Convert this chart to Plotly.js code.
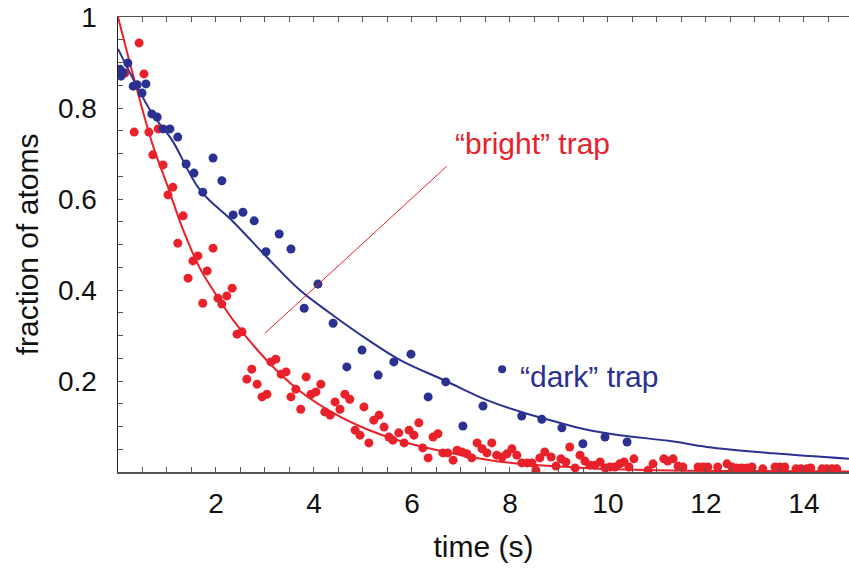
<!DOCTYPE html>
<html>
<head>
<meta charset="utf-8">
<script src="https://cdn.plot.ly/plotly-3.0.1.min.js"></script>
<style>html,body{margin:0;padding:0;background:#fff;}#chart{width:849px;height:568px;}</style>
</head>
<body>
<div id="chart"></div>
<script>
// "dark" trap data points
const darkT = [0.04,0.06,0.10,0.20,0.31,0.39,0.49,0.57,0.69,0.80,0.92,1.06,1.22,1.39,1.55,1.73,1.94,2.12,2.35,2.55,2.78,3.02,3.29,3.53,3.80,4.08,4.39,4.67,4.98,5.31,5.63,5.98,6.33,6.69,7.04,7.45,8.24,8.65,9.06,9.49,9.94,10.39];
const darkV = [0.885,0.870,0.878,0.899,0.848,0.851,0.833,0.853,0.787,0.780,0.754,0.754,0.736,0.677,0.657,0.615,0.690,0.640,0.565,0.571,0.552,0.484,0.523,0.490,0.360,0.413,0.327,0.231,0.268,0.213,0.242,0.259,0.165,0.198,0.101,0.145,0.123,0.116,0.097,0.062,0.077,0.066];

// "bright" trap data points
const brightT = [0.14,0.33,0.43,0.53,0.63,0.71,0.82,0.92,1.02,1.12,1.22,1.33,1.43,1.53,1.63,1.73,1.82,1.94,2.04,2.12,2.22,2.33,2.43,2.53,2.63,2.73,2.84,2.94,3.04,3.12,3.22,3.33,3.43,3.53,3.63,3.73,3.84,3.94,4.04,4.14,4.22,4.33,4.43,4.53,4.63,4.73,4.84,4.94,5.02,5.12,5.22,5.33,5.43,5.53,5.61,5.73,5.84,5.94,6.04,6.14,6.22,6.33,6.43,6.53,6.63,6.73,6.84,6.92,7.02,7.12,7.22,7.33,7.43,7.53,7.63,7.73,7.84,7.94,8.04,8.14,8.24,8.35,8.45,8.53,8.61,8.71,8.84,8.94,9.04,9.14,9.22,9.33,9.43,9.53,9.63,9.73,9.84,9.94,10.04,10.14,10.24,10.33,10.43,10.53,10.82,10.92,11.14,11.22,11.33,11.43,11.53,11.84,11.94,12.04,12.24,12.43,12.53,12.63,12.73,12.84,12.94,13.16,13.41,13.51,13.61,13.84,13.94,14.06,14.14,14.37,14.47,14.57,14.67];
const brightV = [0.877,0.747,0.943,0.875,0.747,0.697,0.754,0.675,0.609,0.626,0.503,0.563,0.426,0.464,0.475,0.371,0.442,0.492,0.382,0.369,0.387,0.404,0.303,0.308,0.204,0.226,0.193,0.165,0.171,0.242,0.248,0.215,0.220,0.165,0.182,0.138,0.209,0.171,0.176,0.193,0.132,0.125,0.154,0.138,0.171,0.160,0.092,0.081,0.143,0.064,0.114,0.125,0.099,0.077,0.070,0.086,0.064,0.092,0.081,0.108,0.053,0.031,0.077,0.084,0.042,0.042,0.026,0.048,0.044,0.040,0.031,0.064,0.051,0.042,0.064,0.037,0.033,0.040,0.051,0.037,0.020,0.020,0.020,0.004,0.031,0.044,0.033,0.013,0.029,0.022,0.055,0.009,0.037,0.024,0.015,0.015,0.022,0.009,0.011,0.011,0.018,0.022,0.011,0.029,0.004,0.018,0.029,0.024,0.029,0.013,0.011,0.011,0.011,0.011,0.011,0.018,0.011,0.009,0.009,0.009,0.011,0.007,0.011,0.011,0.011,0.007,0.007,0.007,0.009,0.007,0.007,0.007,0.007];

// fitted curves
const darkFitT = [0,0.69,1.1,1.67,2.35,3.04,3.71,4.33,5.08,5.76,6.69,7.53,8.2,8.88,9.57,10.24,11.27,12.02,13.37,14.92];
const darkFitV = [0.93,0.789,0.73,0.62,0.55,0.472,0.400,0.349,0.292,0.246,0.200,0.158,0.133,0.112,0.093,0.081,0.068,0.055,0.041,0.029];
const brightFitT = [0,0.69,1.0,1.33,1.67,1.94,2.35,3.04,3.71,4.39,5.08,5.76,6.43,7.53,8.2,9.5,11,13,14.92];
const brightFitV = [1.0,0.725,0.632,0.532,0.448,0.400,0.334,0.245,0.178,0.130,0.094,0.068,0.050,0.027,0.018,0.009,0.004,0.002,0.001];

// label pointer and legend dot
const brightPointerT = [3.0,6.71];
const brightPointerV = [0.305,0.672];
const darkKeyT = [7.84];
const darkKeyV = [0.226];

// ticks
const xTickVals = [2,4,6,8,10,12,14];
const xTickText = ['2','4','6','8','10','12','14'];
const yTickVals = [0.2,0.4,0.6,0.8,1];
const yTickText = ['0.2','0.4','0.6','0.8','1'];

const RED = '#e8212b';
const BLUE = '#2b3190';
const FONT = 'Liberation Sans, Arial, Helvetica, sans-serif';

const traces = [
  {x: brightFitT, y: brightFitV, mode: 'lines', line: {color: RED, width: 2, shape: 'spline', smoothing: 1}, hoverinfo: 'skip'},
  {x: darkFitT, y: darkFitV, mode: 'lines', line: {color: BLUE, width: 2, shape: 'spline', smoothing: 1}, hoverinfo: 'skip'},
  {x: brightT, y: brightV, mode: 'markers', marker: {color: RED, size: 9}},
  {x: darkT, y: darkV, mode: 'markers', marker: {color: BLUE, size: 9}},
  {x: brightPointerT, y: brightPointerV, mode: 'lines', line: {color: RED, width: 1}},
  {x: darkKeyT, y: darkKeyV, mode: 'markers', marker: {color: BLUE, size: 8}}
];

const layout = {
  width: 849, height: 568,
  margin: {l: 118, r: 0, t: 17, b: 96},
  paper_bgcolor: '#fff', plot_bgcolor: '#fff',
  showlegend: false,
  font: {family: FONT, size: 30, color: '#111'},
  xaxis: {
    range: [0, 14.92], showgrid: false, zeroline: false,
    showline: true, linecolor: '#555', linewidth: 1.5, mirror: 'ticks',
    tickmode: 'array', tickvals: xTickVals, ticktext: xTickText,
    ticks: 'inside', ticklen: 5, tickcolor: '#555', tickwidth: 1,
    minor: {tickmode: 'linear', tick0: 0, dtick: 0.5, ticks: 'inside', ticklen: 5, tickcolor: '#555', tickwidth: 1},
    tickfont: {family: FONT, size: 28, color: '#111'},
    ticklabelstandoff: 6,
    title: {text: 'time (s)', font: {family: FONT, size: 30, color: '#111'}, standoff: 18}
  },
  yaxis: {
    range: [0, 1], showgrid: false, zeroline: false,
    showline: true, linecolor: '#222', linewidth: 1.5, mirror: false,
    tickmode: 'array', tickvals: yTickVals, ticktext: yTickText,
    ticks: 'inside', ticklen: 5, tickcolor: '#555', tickwidth: 1,
    minor: {tickmode: 'linear', tick0: 0, dtick: 0.05, ticks: 'inside', ticklen: 5, tickcolor: '#555', tickwidth: 1},
    tickfont: {family: FONT, size: 28, color: '#111'},
    ticklabelstandoff: 14,
    title: {text: 'fraction of atoms', font: {family: FONT, size: 30, color: '#111'}, standoff: 10}
  },
  annotations: [
    {x: 8.45, y: 0.723, xref: 'x', yref: 'y', text: '“bright” trap', showarrow: false, font: {family: FONT, size: 30, color: RED}},
    {x: 9.61, y: 0.209, xref: 'x', yref: 'y', text: '“dark” trap', showarrow: false, font: {family: FONT, size: 30, color: BLUE}}
  ]
};

Plotly.newPlot('chart', traces, layout, {staticPlot: true, displayModeBar: false});
</script>
</body>
</html>
